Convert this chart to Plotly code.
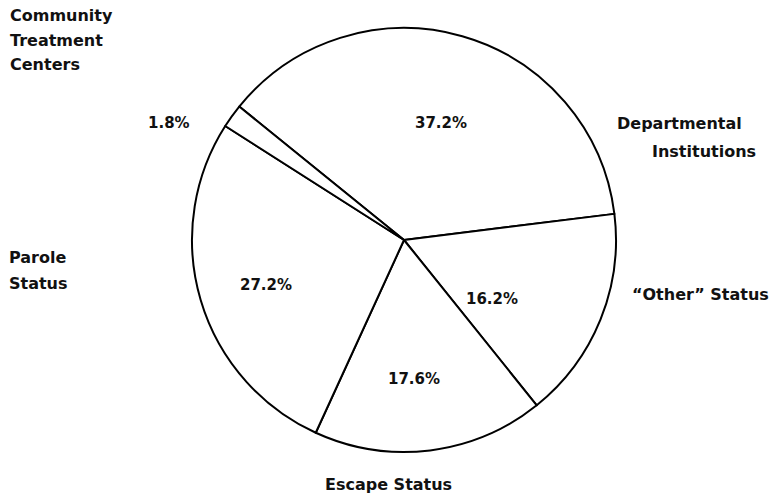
import plotly.graph_objects as go

categories = ["Departmental Institutions", "\"Other\" Status", "Escape Status",
              "Parole Status", "Community Treatment Centers"]
values = [37.2, 16.2, 17.6, 27.2, 1.8]
pct_labels = ["37.2%", "16.2%", "17.6%", "27.2%", "1.8%"]

W, H = 777, 496
cx, cy, r = 404, 240, 212

fig = go.Figure(go.Pie(
    labels=categories,
    values=values,
    textinfo="none",
    sort=False,
    direction="clockwise",
    rotation=-51,
    marker=dict(colors=["white"] * 5, line=dict(color="black", width=2)),
    showlegend=False,
    hoverinfo="label+percent",
    domain=dict(x=[(cx - r) / W, (cx + r) / W], y=[(H - cy - r) / H, (H - cy + r) / H]),
))

lab_font = dict(family="DejaVu Sans", size=16, color="#111111", weight="bold")
pct_font = dict(family="DejaVu Sans", size=15, color="#111111", weight="bold")

# category label lines (text, x, y, anchor)
label_lines = [
    ("Community", 8, 15, "left"),
    ("Treatment", 8, 40, "left"),
    ("Centers", 8, 64, "left"),
    ("Departmental", 615, 123, "left"),
    ("Institutions", 650, 152, "left"),
    ("\u201cOther\u201d Status", 630, 294, "left"),
    ("Parole", 7, 257, "left"),
    ("Status", 7, 283, "left"),
    ("Escape Status", 388, 484, "center"),
]
# percentage label positions, in the same order as values
pct_pos = [(441, 123), (492, 299), (414, 379), (266, 285), (169, 123)]

anns = []
for t, x, y, al in label_lines:
    anns.append(dict(text=t, x=x / W, y=1 - y / H, xref="paper", yref="paper",
                     xanchor=al, yanchor="middle", showarrow=False, font=lab_font))
for t, (x, y) in zip(pct_labels, pct_pos):
    anns.append(dict(text=t, x=x / W, y=1 - y / H, xref="paper", yref="paper",
                     xanchor="center", yanchor="middle", showarrow=False, font=pct_font))

fig.update_layout(
    width=W, height=H,
    margin=dict(l=0, r=0, t=0, b=0),
    paper_bgcolor="white", plot_bgcolor="white",
    annotations=anns,
)
fig.write_html("out.html", config={"displayModeBar": False},
               post_script="document.body.style.margin='0';")
